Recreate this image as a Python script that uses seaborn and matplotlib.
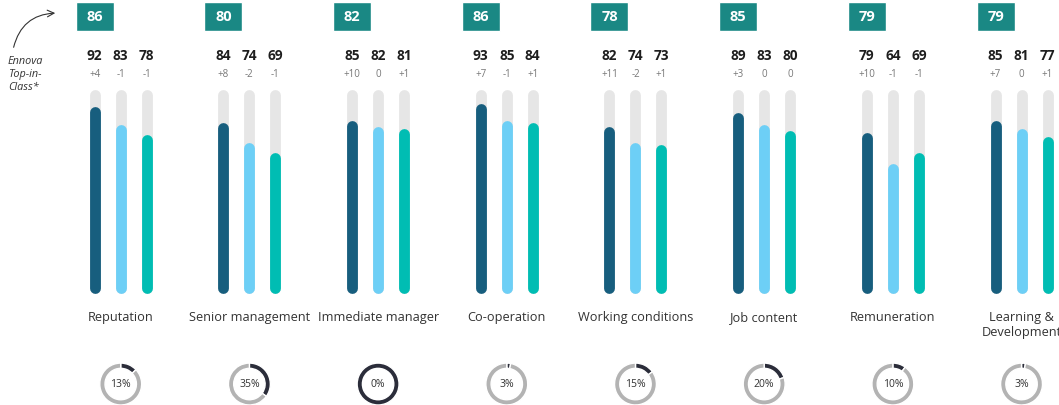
import matplotlib
matplotlib.use("Agg")
import matplotlib.pyplot as plt
import seaborn as sns

# Datos
categorias = ["Reputation", "Senior management", "Immediate manager", "Co-operation",
              "Working conditions", "Job content", "Remuneration", "Learning &\nDevelopment"]
top_in_class = [86, 80, 82, 86, 78, 85, 79, 79]
serie_1 = [92, 84, 85, 93, 82, 89, 79, 85]
serie_2 = [83, 74, 82, 85, 74, 83, 64, 81]
serie_3 = [78, 69, 81, 84, 73, 80, 69, 77]
delta_1 = ["+4", "+8", "+10", "+7", "+11", "+3", "+10", "+7"]
delta_2 = ["-1", "-2", "0", "-1", "-2", "0", "-1", "0"]
delta_3 = ["-1", "-1", "+1", "+1", "+1", "0", "-1", "+1"]
porcentaje = [13, 35, 0, 3, 15, 20, 10, 3]

sns.set_theme(style="white")
plt.rcParams['font.family'] = ['Open Sans', 'DejaVu Sans']

colores = ["#175e7e", "#6dcff6", "#00bdb3"]
gris_pista = "#e6e6e6"
verde_caja = "#1a8884"
oscuro = "#2b2d3a"

fig = plt.figure(figsize=(10.59, 4.05), dpi=100)
ax = fig.add_axes([0, 0, 1, 1])
ax.set_xlim(-0.938, 7.291)
ax.set_ylim(-54.9, 144.1)
ax.axis("off")

desp = 0.202
cap = 2.7  # medio ancho de la barra en unidades de valor (extremo redondeado)
lw = 7.8

for i, cat in enumerate(categorias):
    series = [serie_1[i], serie_2[i], serie_3[i]]
    deltas = [delta_1[i], delta_2[i], delta_3[i]]
    for j, (v, d) in enumerate(zip(series, deltas)):
        x = i + (j - 1) * desp
        pista = ax.vlines(x, cap, 100 - cap, color=gris_pista, linewidth=lw)
        pista.set_capstyle("round")
        barra = ax.vlines(x, cap, v - cap, color=colores[j], linewidth=lw)
        barra.set_capstyle("round")
        ax.text(x, 116.6, str(v), ha="center", va="center", fontsize=9.8,
                fontweight="bold", color="#1e1e1e")
        ax.text(x, 107.3, d, ha="center", va="center", fontsize=7, color="#777777")

    # Caja Top-in-Class
    ax.bar(i - desp, 14.3, width=0.295, bottom=135.8 - 7.15, color=verde_caja)
    ax.text(i - desp, 135.8, str(top_in_class[i]), ha="center", va="center",
            fontsize=10.5, fontweight="bold", color="white")

    # Etiqueta de categoría (una línea de texto por renglón, alineadas por la base)
    for k, linea in enumerate(cat.split("\n")):
        ax.text(i, -13.6 - k * 7.4, linea, ha="center", va="baseline",
                fontsize=9.2, color="#333333")

    # Donut
    ins = ax.inset_axes([i - 0.166, -44.6 - 10.6, 0.332, 21.2], transform=ax.transData)
    p = porcentaje[i]
    if p == 0:
        ins.pie([1], colors=[oscuro], startangle=90, radius=1,
                wedgeprops=dict(width=0.25))
    else:
        ins.pie([p, 100 - p], colors=[oscuro, "#b3b3b3"], startangle=90, radius=1,
                counterclock=False, wedgeprops=dict(width=0.25))
    ins.text(0, 0, f"{p}%", ha="center", va="center", fontsize=7.5, color="#333333")
    ins.set_xlim(-1.02, 1.02)
    ins.set_ylim(-1.02, 1.02)
    ins.set_aspect("equal")
    ins.axis("off")

# Leyenda "Ennova Top-in-Class*"
fig.text(8 / 1059, 1 - 56 / 405, "Ennova\nTop-in-\nClass*", ha="left", va="top",
         fontsize=7.8, style="italic", color="#333333", linespacing=1.25)
ax.annotate("", xy=(58 / 1059, 1 - 13 / 405), xycoords="figure fraction",
            xytext=(13 / 1059, 1 - 50 / 405), textcoords="figure fraction",
            arrowprops=dict(arrowstyle="->", color="#333333", lw=0.8,
                            connectionstyle="arc3,rad=-0.4"))

fig.savefig("out.png", dpi=100)
